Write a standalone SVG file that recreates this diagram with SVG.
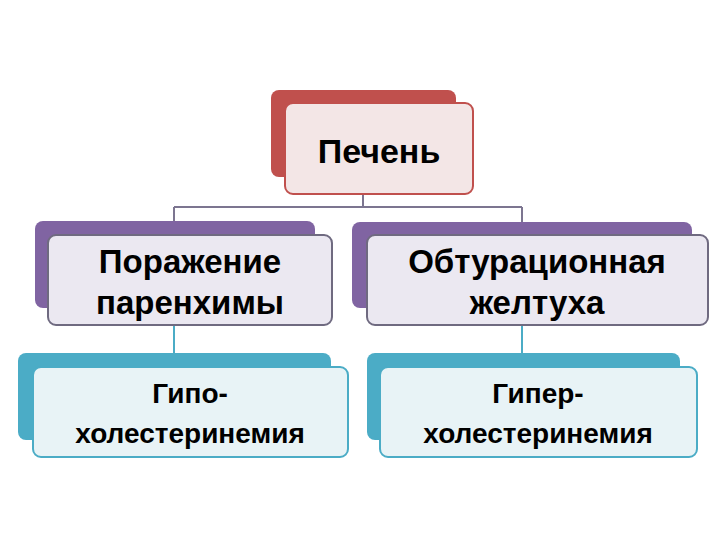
<svg xmlns="http://www.w3.org/2000/svg" width="720" height="540" viewBox="0 0 720 540">
<style>
text{font-family:"Liberation Sans",Arial,sans-serif;font-weight:bold;fill:#000;text-anchor:middle}
.r{fill:#C0504D}.rf{fill:#F3E6E6;stroke:#C0504D;stroke-width:2}
.p{fill:#8064A2}.pf{fill:#EBE8F1;stroke:#6F6A80;stroke-width:2}
.t{fill:#4BACC6}.tf{fill:#E8F3F6;stroke:#4BACC6;stroke-width:2}
.c{fill:none;stroke-width:2}
</style>
<rect width="720" height="540" fill="#fff"/>
<g id="connectors">
<path class="c" stroke="#7C7590" d="M363 194V207M174 207H522M174 207V221M522 207V222"/>
<path class="c" stroke="#4BACC6" d="M174 325V353M522 325V353"/>
</g>
<g id="n-liver">
<rect class="r" x="271" y="90" width="185" height="87" rx="8"/>
<rect class="rf" x="285" y="103" width="188" height="91" rx="8"/>
<text x="379" y="163" font-size="34">Печень</text>
</g>
<g id="n-parenchyma">
<rect class="p" x="35" y="221" width="280" height="87" rx="8"/>
<rect class="pf" x="48" y="235" width="284" height="90" rx="8"/>
<text x="190" y="273" font-size="33">Поражение</text>
<text x="190" y="314" font-size="33">паренхимы</text>
</g>
<g id="n-jaundice">
<rect class="p" x="352" y="222" width="340" height="86" rx="8"/>
<rect class="pf" x="367" y="235" width="341" height="90" rx="8"/>
<text x="537" y="273" font-size="33">Обтурационная</text>
<text x="537" y="314" font-size="33">желтуха</text>
</g>
<g id="n-hypo">
<rect class="t" x="18" y="353" width="313" height="87" rx="8"/>
<rect class="tf" x="33" y="367" width="315" height="90" rx="8"/>
<text x="190" y="403" font-size="28">Гипо-</text>
<text x="190" y="443" font-size="28">холестеринемия</text>
</g>
<g id="n-hyper">
<rect class="t" x="367" y="353" width="313" height="87" rx="8"/>
<rect class="tf" x="380" y="367" width="317" height="90" rx="8"/>
<text x="538" y="403" font-size="28">Гипер-</text>
<text x="538" y="443" font-size="28">холестеринемия</text>
</g>
</svg>
